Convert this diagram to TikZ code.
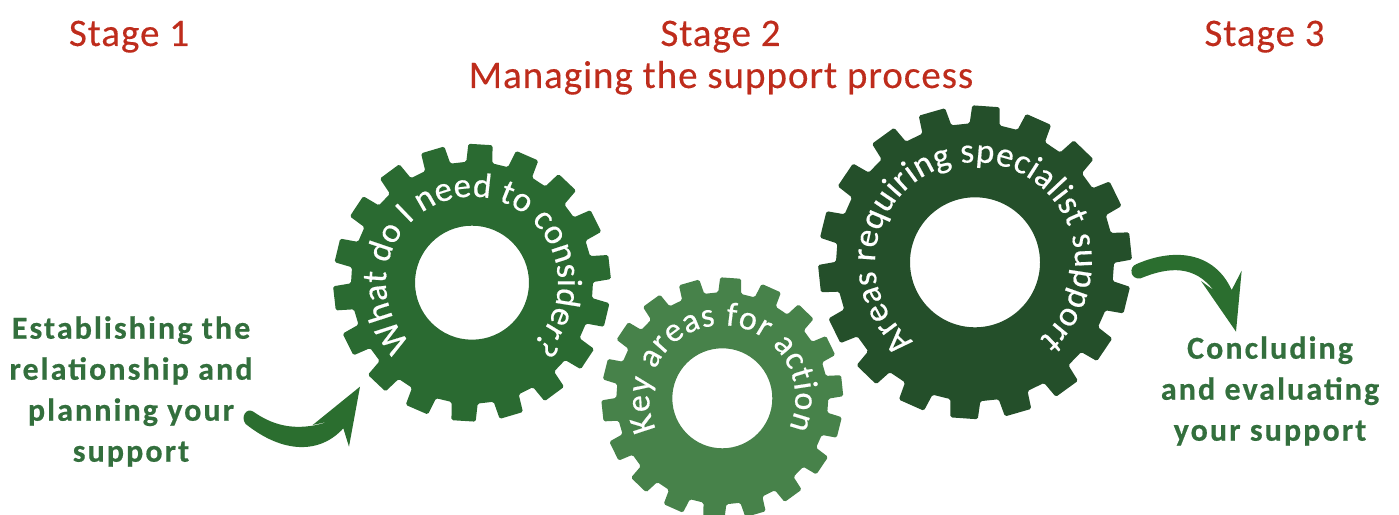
\documentclass[tikz,border=0pt]{standalone}
\usepackage{fontspec}
\setmainfont{Carlito}
\newfontfamily\headfont[LetterSpace=2.5,FakeBold=0.3]{Carlito}
\newfontfamily\sidefont[LetterSpace=6.5,FakeBold=0.5]{Carlito Bold}
\newfontfamily\cogfont[FakeBold=0.5]{Carlito}
\usetikzlibrary{decorations.text}
\definecolor{cogA}{HTML}{2A6A31}
\definecolor{cogB}{HTML}{47824A}
\definecolor{cogC}{HTML}{244F2A}
\definecolor{headred}{HTML}{BE2C1C}
\definecolor{sidegreen}{HTML}{336F3D}
\definecolor{arrowgreen}{HTML}{2B6E2F}
\tikzset{
  headtext/.style={text=headred,font=\headfont\fontsize{39}{40}\selectfont,inner sep=0pt,anchor=base},
  sidetext/.style={text=sidegreen,font=\sidefont\fontsize{32}{41}\selectfont,align=center,inner sep=0pt},
}
% center x, y, Rout, Rroot, Rhole, phase, colour
\newcommand\cogwheel[7]{%
  \fill[#7,even odd rule]
    [rounded corners=1.6pt] ({#1+#4*cos(#6-6.2)},{#2+#4*sin(#6-6.2)})
    \foreach \k in {0,...,17}{
      -- ({#1+#3*cos(#6+20*\k-5)},{#2+#3*sin(#6+20*\k-5)})
      -- ({#1+#3*cos(#6+20*\k+5)},{#2+#3*sin(#6+20*\k+5)})
      -- ({#1+#4*cos(#6+20*\k+6.2)},{#2+#4*sin(#6+20*\k+6.2)})
      -- ({#1+#4*cos(#6+20*\k+13.8)},{#2+#4*sin(#6+20*\k+13.8)})
    } -- cycle
    [sharp corners] (#1,#2) circle (#5);
}
% center x, y, R, start, end, size, text
\newcommand\cogtext[7]{%
  \path[decorate,decoration={text along path,text align={fit to path},
     text={|\cogfont\color{white}\fontsize{#6}{#6}\selectfont|#7}}]
     ({#1+#3*cos(#4)},{#2+#3*sin(#4)}) arc (#4:#5:#3);
}
\begin{document}
\begin{tikzpicture}[x=1pt,y=1pt]
\useasboundingbox (0,0) rectangle (1399,514);
\node[headtext] (s1) at (129,468) {Stage 1};
\node[headtext] (s2) at (720.5,468) {Stage 2};
\node[headtext] (s3) at (1264.5,468) {Stage 3};
\node[headtext] (s2b) at (721,426) {Managing the support process};
\node[sidetext] (left) at (131,122.5) {Establishing the\\relationship and\\planning your\\support};
\node[sidetext] (right) at (1270,123) {Concluding\\and evaluating\\your support};
\cogwheel{472}{231.3}{139}{121}{57}{86.5}{cogA}
\cogwheel{722.3}{115.7}{121}{106}{50}{86}{cogB}
\cogwheel{975}{251.7}{157}{139}{65}{86}{cogC}
\cogtext{472}{231.3}{86}{225}{-46}{35}{What do I need to consider?}
\cogtext{722.3}{115.7}{73}{205}{-24}{34}{Key areas for action}
\cogtext{975}{251.7}{100}{232}{-50}{35}{Areas requiring specialist support}
\begin{scope}[shift={(0,214)},x=.33333pt,y=-.33333pt]
\fill[arrowgreen] (760,335) .. controls (810,370) and (880,400) .. (985,365)
  -- (938,375) -- (1080,260) -- (1047,440) -- (1030,385)
  .. controls (960,462) and (850,462) .. (737,372)
  .. controls (720,350) and (740,322) .. (760,335) -- cycle;
\end{scope}
\begin{scope}[shift={(1120,274)},x=.33333pt,y=-.33333pt]
\fill[arrowgreen] (50,72) .. controls (170,20) and (285,40) .. (335,150)
  -- (365,92) -- (348,275) -- (243,123) -- (280,150)
  .. controls (225,78) and (150,78) .. (62,115)
  .. controls (30,120) and (25,80) .. (50,72) -- cycle;
\end{scope}
\end{tikzpicture}
\end{document}
